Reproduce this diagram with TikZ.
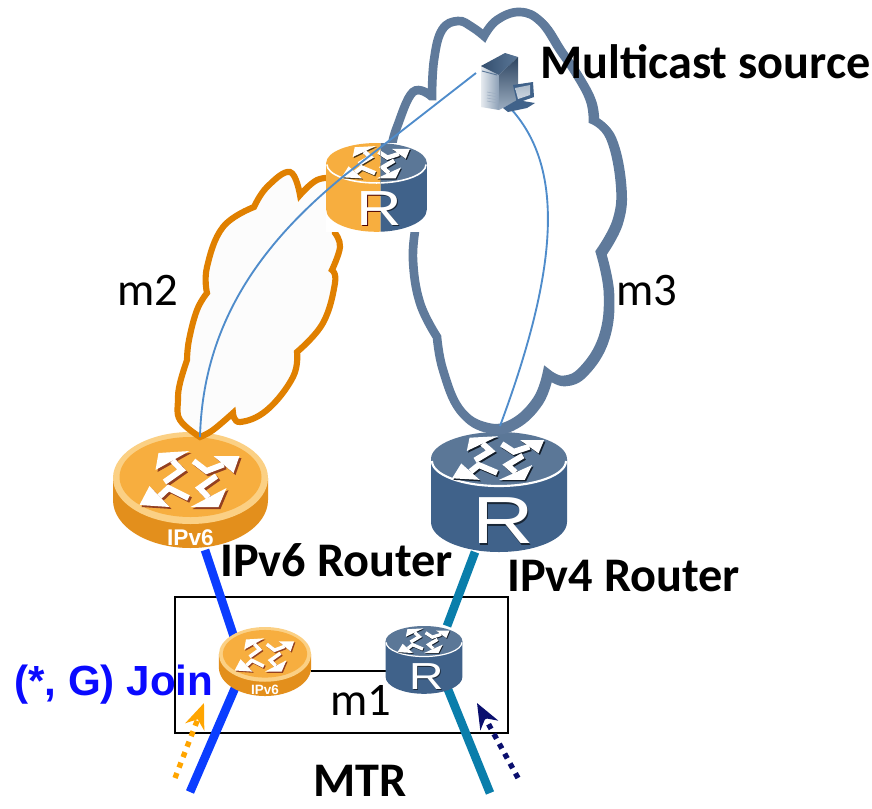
\documentclass[tikz,border=0pt]{standalone}
\usepackage{fontspec}
\setmainfont{Carlito}
\newfontfamily\arialf{Liberation Sans}
\usetikzlibrary{arrows.meta}
\definecolor{cloudblue}{HTML}{5F7A9B}
\definecolor{cloudorange}{HTML}{E08000}
\definecolor{slatetop}{HTML}{5B7797}
\definecolor{slateside}{HTML}{40628A}
\definecolor{ortop}{HTML}{F7AE3F}
\definecolor{orside}{HTML}{E38F1C}
\definecolor{orrim}{HTML}{FBD084}
\definecolor{linkblue}{HTML}{4F8CCB}
\definecolor{v6line}{HTML}{0B3DFF}
\definecolor{v4line}{HTML}{0A7EAB}
\definecolor{joinblue}{HTML}{0A0AFF}
\definecolor{navyarrow}{HTML}{0A0F6E}
\definecolor{orarrow}{HTML}{FFA500}
\tikzset{
  cloudb/.style={draw=cloudblue,fill=white,line width=6.5pt,line join=miter},
  cloudo/.style={draw=cloudorange,fill=black!1,line width=4.6pt,line join=miter},
  link/.style={draw=linkblue,line width=1.4pt},
  thickv6/.style={draw=v6line,line width=6.5pt},
  thickv4/.style={draw=v4line,line width=6.5pt},
  dots/.style={line width=4pt,dash pattern=on 4pt off 4.4pt,-{Stealth[length=19pt,width=15pt,inset=6pt]}},
  big/.style={font=\fontsize{36.2}{36}\selectfont\bfseries,anchor=base west,inner sep=0pt,text=black},
  reg/.style={font=\fontsize{35}{35}\selectfont,anchor=base west,inner sep=0pt,text=black},
}
\newcommand\bluecloudpath{%
  plot[smooth,tension=.7] coordinates {(392,145)(397,127)(413,92)(431,96)}
  -- plot[smooth,tension=.7] coordinates {(432,96)(434,60)(442,30)(458,21)(472,27)(484,36)}
  -- plot[smooth,tension=.7] coordinates {(484,36)(497,20)(520,12)(541,22)(560,50)(577,75)(590,100)(593,120)}
  -- plot[smooth,tension=.7] coordinates {(593,120)(610,137)(620,183)(617,220)(600,252)}
  -- plot[smooth,tension=.7] coordinates {(600,252)(608,293)(603,337)(583,370)(563,380)(547,373)}
  -- plot[smooth,tension=.7] coordinates {(547,373)(537,400)(513,423)(487,427)(460,410)(443,370)(437,337)}
  -- plot[smooth,tension=.7] coordinates {(437,337)(420,303)(413,260)(416,225)}
  -- (392,145)}
% #1 colour, #2 line width factor
\newcommand\arrowglyph[2]{%
  \foreach \pa/\pb/\pc/\pd/\pe/\pf/\pg/\ph/\pi/\pj in
   {49/-23/23/-23/43/-6/16/-8/3/-18,
    -32/-26/-1/-28/-35/-9/-9/-9/-26/3,
    -51/26/-41/7/-21/28/-22/9/-2/19,
    28/28/0/28/36/9/9/9/26/-3}{%
    \fill[#1] (\pa,\pb)--(\pc,\pd)--(\pe,\pf)--cycle;
    \draw[#1,line width=#2*4.4pt,line join=miter]
      ({(\pc+\pe)/2},{(\pd+\pf)/2})--(\pg,\ph)--(\pi,\pj);
  }}
% cx, ytop, scale, top colour, side colour, R shadow colour
\newcommand\cylrouter[6]{%
  \begin{scope}[shift={(#1,#2)},scale=#3]
    \fill[#5] (-68,27)--(-68,90) arc[start angle=180,delta angle=-180,x radius=68,y radius=30]--(68,27)--cycle;
    \fill[#4] (0,27) circle[x radius=68,y radius=27];
    \draw[white,line width=#3*1.6pt] (-67,29) arc[start angle=180,delta angle=-180,x radius=67,y radius=25];
    \begin{scope}[shift={(0,26)},xscale=.92,yscale=.78]
      \begin{scope}[shift={(1.5,2)}]\arrowglyph{black!70!#5}{#3}\end{scope}
      \arrowglyph{white}{#3}
    \end{scope}
    \node[transform shape,xscale=1.28,inner sep=0pt,text=#6,font=\arialf\fontsize{50}{50}\selectfont] at (5.5,90.5) {R};
    \node[transform shape,xscale=1.28,inner sep=0pt,text=white,font=\arialf\fontsize{50}{50}\selectfont] at (4,89) {R};
  \end{scope}}
% cx, ytop, scale
\newcommand\flatrouter[3]{%
  \begin{scope}[shift={(#1,#2)},scale=#3]
    \fill[orside] (-77.5,46)--(-77.5,68) arc[start angle=180,delta angle=-180,x radius=77.5,y radius=48]--(77.5,46)--cycle;
    \fill[orrim] (0,46) circle[x radius=77.5,y radius=46];
    \fill[ortop] (0,45) circle[x radius=71,y radius=40];
    \begin{scope}[shift={(0,47)}]
      \begin{scope}[shift={(2,2)}]\arrowglyph{black!60!red!50!brown}{#3}\end{scope}
      \arrowglyph{white}{#3}
    \end{scope}
    \node[transform shape,inner sep=0pt,text=white,font=\arialf\bfseries\fontsize{17}{17}\selectfont] at (0,106) {IPv6};
  \end{scope}}
\begin{document}
\begin{tikzpicture}[x=0.75pt,y=-0.75pt]
\useasboundingbox (0,0) rectangle (872,808);
\fill[white] (0,0) rectangle (872,808);

% anchors
\coordinate (srvw) at (476,73);
\coordinate (srvs) at (512,110);
\coordinate (bend) at (345,175);
\coordinate (v6top) at (200,437);
\coordinate (v4top) at (500,426);
\coordinate (v6bigb) at (205,550);
\coordinate (v6smt) at (235,640);
\coordinate (v6smb) at (235,688);
\coordinate (v6end) at (190,792);
\coordinate (v4bigb) at (475,552);
\coordinate (v4smt) at (447,626);
\coordinate (v4smb) at (447,687);
\coordinate (v4end) at (490,793);
\coordinate (v6sme) at (311,671);
\coordinate (v4smw) at (386,671);
\coordinate (oatail) at (175,778);
\coordinate (oahead) at (204,703);
\coordinate (natail) at (518,778);
\coordinate (nahead) at (477,703);

% big routers
\flatrouter{190.5}{432}{1}
\cylrouter{499}{432}{1}{slatetop}{slateside}{black!60!slateside}

% clouds
\begin{scope}[shift={(2,2)}]
  \path[cloudb] \bluecloudpath;
\end{scope}
\path[cloudb] \bluecloudpath;
\path[cloudo]
  plot[smooth,tension=.7] coordinates {(200,437)(180,420)(178,400)(180,383)(187,360)}
  -- plot[smooth,tension=.7] coordinates {(187,360)(189,340)(197,310)(207,293)}
  -- plot[smooth,tension=.7] coordinates {(207,293)(207,267)(223,227)(254,207)}
  -- plot[smooth,tension=.7] coordinates {(254,207)(267,187)(290,172)(300,195)}
  -- plot[smooth,tension=.7] coordinates {(300,195)(317,180)(335,178)}
  -- (335,233)
  -- plot[smooth,tension=.7] coordinates {(335,233)(340,247)(332,270)}
  -- plot[smooth,tension=.7] coordinates {(332,270)(335,283)(323,323)(297,352)}
  -- plot[smooth,tension=.7] coordinates {(297,352)(293,377)(267,410)(240,422)(233,413)}
  -- plot[smooth,tension=.7] coordinates {(233,413)(213,430)(200,437)}
  -- cycle;

% centre router
\fill[white] (326,143) rectangle (427,232);
\begin{scope}
  \clip (320,140) rectangle (380.5,235);
  \cylrouter{376.5}{143}{.74}{ortop}{ortop}{black!70!red}
\end{scope}
\begin{scope}
  \clip (380.5,140) rectangle (430,235);
  \cylrouter{376.5}{143}{.74}{slatetop}{slateside}{black!60!slateside}
\end{scope}

% MTR box
\node[draw=black,line width=1.5pt,minimum width=333*0.75pt,minimum height=136*0.75pt,inner sep=0pt,anchor=north west] (mtr) at (174,596) {};

% thick links
\draw[thickv6] (v6bigb)--(v6smt);
\draw[thickv6] (v6smb)--(v6end);
\draw[thickv4] (v4bigb)--(v4smt);
\draw[thickv4] (v4smb)--(v4end);
\draw[black,line width=1.5pt] (v6sme)--(v4smw);

% small routers
\flatrouter{265}{627}{.595}
\cylrouter{424}{626}{.565}{slatetop}{slateside}{black!60!slateside}

% thin links
\draw[link] (srvw)--(bend) .. controls (265,240) and (203,320) .. (v6top);
\draw[link] (srvs) .. controls (565,170) and (558,270) .. (v4top);

% server
\shade[left color=white!85!slatetop,right color=slatetop!70] (481,66)--(499,75)--(499,110)--(481,107)--cycle;
\shade[left color=slateside!80!black,right color=slatetop] (481,66)--(505,53)--(518,57)--(499,75)--cycle;
\shade[top color=slateside!70!black,bottom color=slatetop!60] (499,75)--(518,57)--(518,100)--(499,110)--cycle;
\fill[slateside] (503,108)--(517,100)--(535,103)--(527,108)--(508,112)--cycle;
\fill[slateside] (513,85)--(533,82)--(534,97)--(517,103)--cycle;
\shade[top color=slatetop!50,bottom color=white!70!slatetop] (515,88)--(530,85)--(530,95)--(518,99)--cycle;
\draw[slatetop,line width=.7pt] (482,71)--(497,75);
\foreach \q in {92,95,98,101}{\draw[slatetop!60,line width=.4pt] (487,\q)--(498,\q+2);}

% arrows
\draw[dots,orarrow] (oatail)--(oahead);
\draw[dots,navyarrow] (natail)--(nahead);

% labels
\node[big] (lsrc) at (540,78) {Multicast source};
\node[reg] (lm2) at (117,305) {m2};
\node[reg] (lm3) at (616,305) {m3};
\node[big] (lv6) at (220,576) {IPv6 Router};
\node[big] (lv4) at (507,591) {IPv4 Router};
\node[reg] (lm1) at (330,715) {m1};
\node[big] (lmtr) at (313,796) {MTR};
\node[anchor=base west,inner sep=0pt,text=joinblue,font=\arialf\bfseries\fontsize{31.6}{32}\selectfont] (ljoin) at (14,695) {(*, G) Join};
\end{tikzpicture}
\end{document}
